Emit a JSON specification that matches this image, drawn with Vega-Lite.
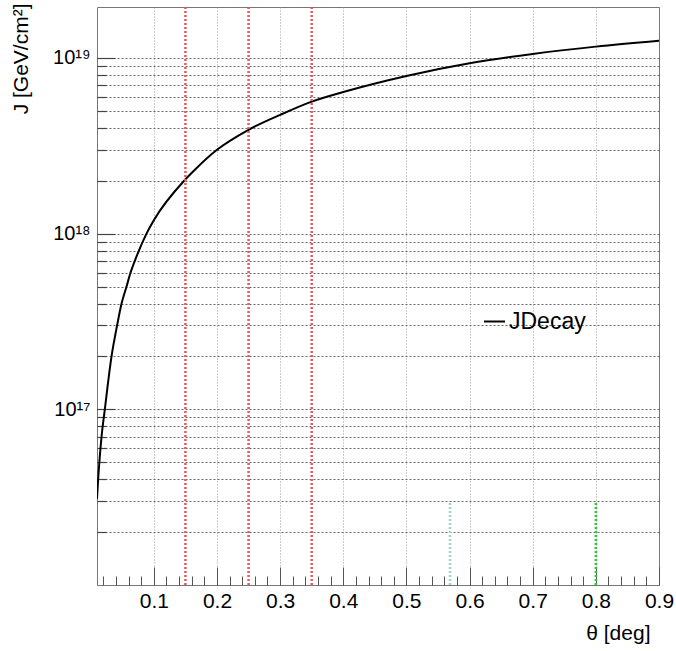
{
  "$schema": "https://vega.github.io/schema/vega-lite/v6.json",
  "width": 562,
  "height": 578,
  "autosize": {"type": "none"},
  "padding": {"left": 97, "top": 7, "right": 17, "bottom": 66},
  "background": "white",
  "config": {
    "font": "Liberation Sans",
    "view": {"stroke": "#777", "strokeWidth": 1}
  },
  "datasets": {
    "curve": [
      {"theta": 0.0100, "J": 3.1e16},
      {"theta": 0.0118, "J": 4.0e16},
      {"theta": 0.0137, "J": 5.0e16},
      {"theta": 0.0172, "J": 7.0e16},
      {"theta": 0.0224, "J": 1.0e17},
      {"theta": 0.0330, "J": 2.0e17},
      {"theta": 0.0418, "J": 3.0e17},
      {"theta": 0.0489, "J": 4.0e17},
      {"theta": 0.0568, "J": 5.0e17},
      {"theta": 0.0631, "J": 6.0e17},
      {"theta": 0.0699, "J": 7.0e17},
      {"theta": 0.0884, "J": 1.0e18},
      {"theta": 0.1005, "J": 1.2e18},
      {"theta": 0.148, "J": 2.0e18},
      {"theta": 0.165, "J": 2.31e18},
      {"theta": 0.2, "J": 3.0e18},
      {"theta": 0.25, "J": 3.9e18},
      {"theta": 0.3, "J": 4.74e18},
      {"theta": 0.35, "J": 5.64e18},
      {"theta": 0.4, "J": 6.4e18},
      {"theta": 0.5, "J": 7.9e18},
      {"theta": 0.6, "J": 9.33e18},
      {"theta": 0.7, "J": 1.054e19},
      {"theta": 0.8, "J": 1.16e19},
      {"theta": 0.9, "J": 1.254e19}
    ],
    "red": [
      {"theta": 0.15},
      {"theta": 0.25},
      {"theta": 0.35}
    ],
    "green": [
      {"theta": 0.569, "J": 1.0e16, "J2": 3.0e16, "kind": "teal"},
      {"theta": 0.8, "J": 1.0e16, "J2": 3.0e16, "kind": "green"}
    ]
  },
  "layer": [
    {
      "data": {"name": "curve"},
      "mark": {"type": "line", "strokeWidth": 2, "interpolate": "monotone", "clip": true},
      "encoding": {
        "x": {
          "field": "theta", "type": "quantitative",
          "scale": {"domain": [0.01, 0.9], "nice": false, "zero": false},
          "axis": {
            "values": [0.02,0.04,0.06,0.08,0.1,0.12,0.14,0.16,0.18,0.2,0.22,0.24,0.26,0.28,0.3,0.32,0.34,0.36,0.38,0.4,0.42,0.44,0.46,0.48,0.5,0.52,0.54,0.56,0.58,0.6,0.62,0.64,0.66,0.68,0.7,0.72,0.74,0.76,0.78,0.8,0.82,0.84,0.86,0.88,0.9],
            "tickCount": 200,
            "domain": false,
            "grid": true,
            "gridColor": "#999",
            "gridDash": [1, 2],
            "gridWidth": 1,
            "gridOpacity": {"condition": {"test": "abs(datum.value*10-round(datum.value*10))<0.001 && datum.value<0.89", "value": 1}, "value": 0},
            "tickSize": {"condition": {"test": "abs(datum.value*10-round(datum.value*10))<0.001", "value": -18}, "value": -9},
            "tickColor": "#555",
            "tickWidth": 1,
            "labelExpr": "abs(datum.value*10-round(datum.value*10))<0.001 ? format(datum.value,'.1f') : ''",
            "labelFont": "Liberation Sans",
            "labelFontSize": 21,
            "labelColor": "black",
            "labelPadding": 23,
            "labelOverlap": false,
            "labelBound": false,
            "labelFlush": false,
            "title": "θ [deg]",
            "titleAnchor": "end",
            "titleX": 553,
            "titleFont": "Liberation Sans",
            "titleFontSize": 21,
            "titleFontWeight": "normal",
            "titleColor": "black",
            "titlePadding": 2
          }
        },
        "y": {
          "field": "J", "type": "quantitative",
          "scale": {"type": "log", "domain": [1.0e16, 1.95e19], "nice": false},
          "axis": {
            "values": [2e16,3e16,4e16,5e16,6e16,7e16,8e16,9e16,1e17,2e17,3e17,4e17,5e17,6e17,7e17,8e17,9e17,1e18,2e18,3e18,4e18,5e18,6e18,7e18,8e18,9e18,1e19],
            "tickCount": 200,
            "domain": false,
            "grid": true,
            "gridColor": "#666",
            "gridDash": [2, 2],
            "gridWidth": 1,
            "tickSize": {"condition": {"test": "datum.value==1e17||datum.value==1e18||datum.value==1e19", "value": -18}, "value": -9},
            "tickColor": "#444",
            "tickWidth": 1.2,
            "labelExpr": "datum.value==1e17 ? '10¹⁷' : datum.value==1e18 ? '10¹⁸' : datum.value==1e19 ? '10¹⁹' : ''",
            "labelFont": "Liberation Sans",
            "labelFontSize": 20,
            "labelColor": "black",
            "labelPadding": 25,
            "labelOverlap": false,
            "labelBound": false,
            "labelFlush": false,
            "title": "J [GeV/cm²]",
            "titleAnchor": "end",
            "titleY": -4,
            "titleFont": "Liberation Sans",
            "titleFontSize": 21,
            "titleFontWeight": "normal",
            "titleColor": "black",
            "titlePadding": 21
          }
        },
        "color": {
          "datum": "JDecay",
          "scale": {"range": ["black"]},
          "legend": {
            "orient": "none",
            "legendX": 386,
            "legendY": 303,
            "title": null,
            "padding": 0,
            "symbolType": "stroke",
            "symbolSize": 441,
            "symbolStrokeWidth": 2,
            "labelFont": "Liberation Sans",
            "labelFontSize": 23,
            "labelColor": "black",
            "labelOffset": 3
          }
        }
      }
    },
    {
      "data": {"name": "red"},
      "mark": {"type": "rule", "color": "#ea5560", "strokeWidth": 2.5, "strokeDash": [2, 2]},
      "encoding": {
        "x": {"field": "theta", "type": "quantitative"}
      }
    },
    {
      "data": {"name": "green"},
      "mark": {"type": "rule", "strokeWidth": 2.5, "strokeDash": [2, 2], "clip": true},
      "encoding": {
        "x": {"field": "theta", "type": "quantitative"},
        "y": {"field": "J", "type": "quantitative"},
        "y2": {"field": "J2"},
        "stroke": {
          "field": "kind", "type": "nominal",
          "scale": {"domain": ["teal", "green"], "range": ["#9ed6c6", "#22d42a"]},
          "legend": null
        }
      }
    }
  ],
  "resolve": {"scale": {"color": "independent"}}
}
